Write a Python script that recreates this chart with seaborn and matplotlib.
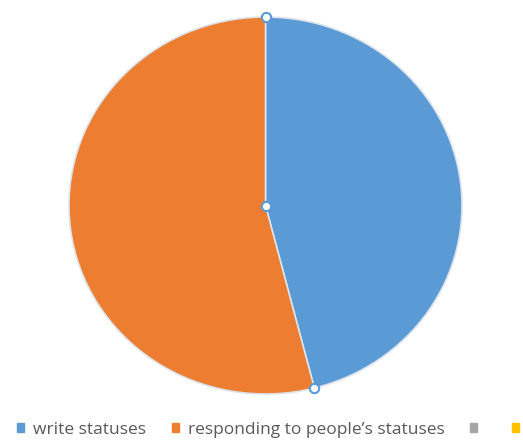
import numpy as np
import seaborn as sns
import matplotlib.pyplot as plt

# Данные диаграммы
labels = ["write statuses", "responding to people’s statuses", "", ""]
shares = [46, 54, 0, 0]
colors = ["#5B9BD5", "#ED7D31", "#A5A5A5", "#FFC000"]

sns.set_theme(style="white")
plt.rcParams['font.family'] = ['Open Sans', 'DejaVu Sans']

fig = plt.figure(figsize=(5.23, 4.47), dpi=100)
ax = fig.add_axes([69 / 523, 53 / 447, 393 / 523, 377 / 447])

# Рисуем только ненулевые сектора, легенда - для всех
vals = np.array(shares, dtype=float)
wedges, _ = ax.pie(
    vals[vals > 0],
    colors=[c for c, v in zip(colors, shares) if v > 0],
    startangle=90,
    counterclock=False,
    radius=1,
    wedgeprops=dict(edgecolor="#dde3ea", linewidth=1.2),
)
ax.set_aspect('auto')
ax.set_xlim(-1, 1)
ax.set_ylim(-1, 1)

# Маркеры выделения на границах секторов
bound = np.cumsum(vals[vals > 0])[0] / vals.sum()
ang = np.deg2rad(90 - 360 * np.array([0, bound]))
hx = np.r_[np.cos(ang), 0]
hy = np.r_[np.sin(ang), 0]
ax.scatter(hx, hy, s=45, facecolor="white", edgecolor="#5B9BD5",
           linewidth=1.5, zorder=5, clip_on=False)

handles = [plt.Rectangle((0, 0), 1, 1, color=c) for c in colors]
leg = fig.legend(
    handles, labels,
    loc="center", bbox_to_anchor=(0.5 + 11 / 523, 1 - 430 / 447),
    ncol=4, frameon=False, fontsize=12.5,
    handlelength=0.4, handleheight=0.4, handletextpad=0.5,
    columnspacing=1.5, borderpad=0, borderaxespad=0,
)
for t in leg.get_texts():
    t.set_color("#595959")

plt.savefig("out.png", dpi=100)
plt.close()
